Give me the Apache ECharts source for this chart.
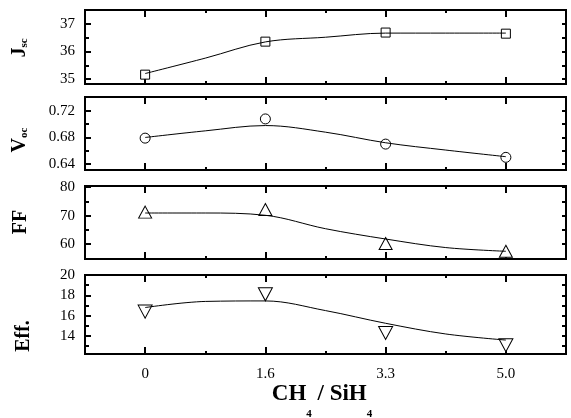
<!DOCTYPE html>
<html><head><meta charset="utf-8">
<script src="https://cdn.jsdelivr.net/npm/echarts@6/dist/echarts.min.js"></script>
<style>html,body{margin:0;padding:0;background:#fff}#c{width:571px;height:418px}</style>
</head><body><div id="c"></div>
<script>
// ---- data ----
const categories = ['0', '1.6', '3.3', '5.0'];
const xIndex = [0, 1, 2, 3];
const fitX = [0, 0.5, 1, 1.5, 2, 2.5, 3];

const jsc = [35.16, 36.36, 36.69, 36.65];
const voc = [0.679, 0.708, 0.670, 0.650];
const ff = [71.2, 72.1, 60.2, 57.5];
const eff = [16.4, 18.1, 14.3, 13.1];

const jscFit = [35.2, 35.76, 36.35, 36.52, 36.67, 36.67, 36.67];
const vocFit = [0.680, 0.690, 0.698, 0.688, 0.672, 0.661, 0.651];
const ffFit = [70.9, 70.9, 70.1, 65.4, 61.8, 58.8, 57.5];
const effFit = [16.8, 17.4, 17.45, 16.5, 15.25, 14.2, 13.6];

// tick labels / tick positions
const jscTicks = [35, 36, 37];
const jscMinor = [35.5, 36.5];
const vocTicks = [0.64, 0.68, 0.72];
const vocMinor = [0.66, 0.70];
const ffTicks = [60, 70, 80];
const ffMinor = [65, 75];
const effTicks = [14, 16, 18, 20];
const effMinor = [13, 15, 17, 19];
const xMinor = [0.5, 1.5, 2.5];

const FONT = '"Liberation Serif", "Times New Roman", serif';

const panels = [
  {top: 10, height: 74, min: 34.82, max: 37.51, data: jsc, fit: jscFit, major: jscTicks, minor: jscMinor,
   symbol: 'rect', size: 9, fmt: v => String(Math.round(v))},
  {top: 97, height: 73, min: 0.6309, max: 0.7411, data: voc, fit: vocFit, major: vocTicks, minor: vocMinor,
   symbol: 'circle', size: 10, fmt: v => v.toFixed(2)},
  {top: 186, height: 73, min: 54.8, max: 80.35, data: ff, fit: ffFit, major: ffTicks, minor: ffMinor,
   symbol: 'triangle', size: [13, 12], fmt: v => String(Math.round(v))},
  {top: 275, height: 79, min: 12.23, max: 20, data: eff, fit: effFit, major: effTicks, minor: effMinor,
   symbol: 'path://M0,0 L10,0 L5,10 Z', size: [14, 13], fmt: v => String(Math.round(v))}
];

const grid = [], xAxis = [], yAxis = [], series = [];
const tickStyle = {color: '#000', width: 2};
const noLine = {show: false, onZero: false};

panels.forEach((p, i) => {
  grid.push({left: 85, right: 5, top: p.top, height: p.height, show: true,
    borderColor: '#000', borderWidth: 2, backgroundColor: 'transparent'});
  const xBase = {gridIndex: i, type: 'value', min: -0.5, max: 3.5,
    axisLine: noLine, splitLine: {show: false}};
  xAxis.push(Object.assign({}, xBase, {position: 'bottom',
    axisTick: {show: true, inside: true, length: 7, customValues: xIndex, lineStyle: tickStyle},
    axisLabel: {show: i === 3, customValues: xIndex, formatter: v => categories[Math.round(v)],
      margin: 13, color: '#000', fontFamily: FONT, fontSize: 15}}));
  xAxis.push(Object.assign({}, xBase, {position: 'bottom',
    axisTick: {show: true, inside: true, length: 3, customValues: xMinor, lineStyle: tickStyle},
    axisLabel: {show: false}}));
  xAxis.push(Object.assign({}, xBase, {position: 'top',
    axisTick: {show: true, inside: true, length: 7, customValues: xIndex, lineStyle: tickStyle},
    axisLabel: {show: false}}));
  xAxis.push(Object.assign({}, xBase, {position: 'top',
    axisTick: {show: true, inside: true, length: 3, customValues: xMinor, lineStyle: tickStyle},
    axisLabel: {show: false}}));

  const yBase = {gridIndex: i, type: 'value', min: p.min, max: p.max,
    axisLine: noLine, splitLine: {show: false}};
  yAxis.push(Object.assign({}, yBase, {position: 'left',
    axisTick: {show: true, inside: true, length: 6, customValues: p.major, lineStyle: tickStyle},
    axisLabel: {show: true, customValues: p.major, formatter: p.fmt, margin: 10,
      color: '#000', fontFamily: FONT, fontSize: 15}}));
  yAxis.push(Object.assign({}, yBase, {position: 'left',
    axisTick: {show: true, inside: true, length: 4, customValues: p.minor, lineStyle: tickStyle},
    axisLabel: {show: false}}));
  yAxis.push(Object.assign({}, yBase, {position: 'right',
    axisTick: {show: true, inside: true, length: 4,
      customValues: p.major.concat(p.minor), lineStyle: tickStyle},
    axisLabel: {show: false}}));

  series.push({type: 'line', xAxisIndex: 4 * i, yAxisIndex: 3 * i, smooth: 0.35,
    showSymbol: false, silent: true, lineStyle: {color: '#000', width: 1},
    data: fitX.map((x, k) => [x, p.fit[k]])});
  series.push({type: 'scatter', xAxisIndex: 4 * i, yAxisIndex: 3 * i, symbol: p.symbol,
    symbolSize: p.size, itemStyle: {color: '#fff', borderColor: '#000', borderWidth: 1, opacity: 1},
    data: xIndex.map((x, k) => [x, p.data[k]])});
});

const nameRich = {
  m: {fontFamily: FONT, fontSize: 20, fontWeight: 'bold', fill: '#000', color: '#000', lineHeight: 20, verticalAlign: 'top'},
  s: {fontFamily: FONT, fontSize: 11, fontWeight: 'bold', fill: '#000', color: '#000', lineHeight: 20, verticalAlign: 'bottom'}
};
const titleRich = {
  m: {fontFamily: FONT, fontSize: 23, fontWeight: 'bold', fill: '#000', color: '#000', lineHeight: 23, verticalAlign: 'top'},
  s: {fontFamily: FONT, fontSize: 11, fontWeight: 'bold', fill: '#000', color: '#000', lineHeight: 37, verticalAlign: 'bottom'}
};
function vText(x, y, text, rich) {
  return {type: 'text', x: x, y: y, rotation: Math.PI / 2,
    style: {text: text, rich: rich, align: 'center', verticalAlign: 'middle',
      font: 'bold 20px ' + FONT, fill: '#000'}};
}

const option = {
  animation: false,
  backgroundColor: '#fff',
  grid: grid, xAxis: xAxis, yAxis: yAxis, series: series,
  graphic: [
    vText(20, 48, '{m|J}{s|sc}', nameRich),
    vText(20, 140, '{m|V}{s|oc}', nameRich),
    vText(21, 222, '{m|FF}', nameRich),
    vText(24, 336, '{m|Eff.}', nameRich),
    {type: 'text', x: 322, y: 401,
      style: {text: '{m|CH}{s|4}{m| / SiH}{s|4}', rich: titleRich, align: 'center', verticalAlign: 'middle',
        font: 'bold 23px ' + FONT, fill: '#000'}}
  ]
};
echarts.init(document.getElementById('c'), null, {renderer: 'canvas'}).setOption(option);
</script>
</body></html>
